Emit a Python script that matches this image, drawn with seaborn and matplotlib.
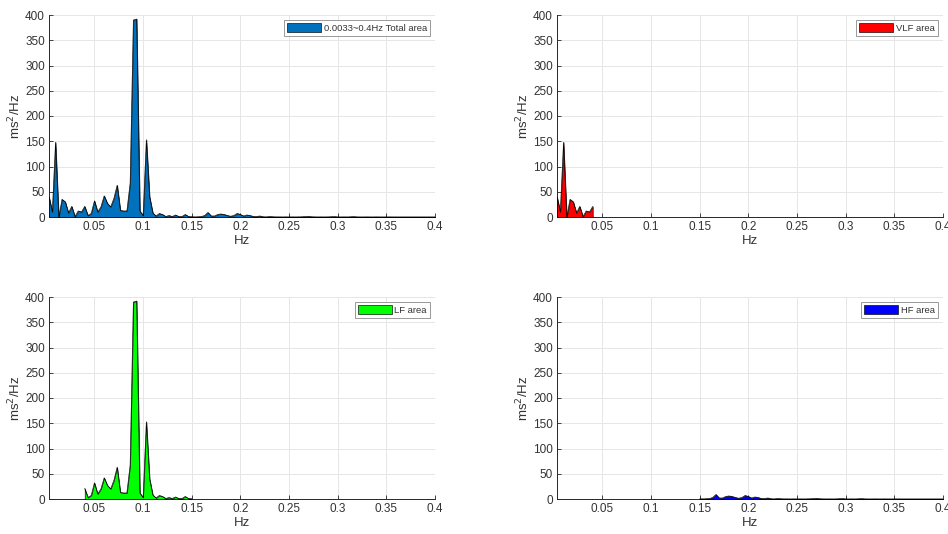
import numpy as np
import pandas as pd
import matplotlib
matplotlib.use("Agg")
import matplotlib.pyplot as plt
import seaborn as sns

# frequency bins (k/300 Hz, k = 1..120)
freq_bins = list(range(1, 121))
psd = [40, 10, 148, 0, 35, 30, 8, 21, 1, 12,
       10, 21, 3, 7, 32, 10, 20, 42, 27, 20,
       37, 63, 13, 12, 12, 67, 390, 392, 12, 3,
       153, 40, 8, 2, 7, 5, 1, 3, 1, 4,
       1, 1, 5, 1, 0.5, 0.3, 0.5, 1, 3, 9,
       2, 2, 5, 6, 5, 3, 1.5, 3, 7, 5,
       2, 4, 3, 1, 1, 2, 0.5, 0.3, 1, 0.5,
       0.3, 0.3, 0.2, 0.3, 0.2, 0.3, 0.2, 0.3, 0.5, 0.8,
       1.2, 0.5, 0.3, 0.2, 0.3, 0.2, 0.3, 0.6, 0.8, 0.3,
       0.2, 0.3, 0.2, 0.5, 0.7, 0.3, 0.2, 0.2, 0.3, 0.2,
       0.2, 0.3, 0.2, 0.2, 0.2, 0.3, 0.2, 0.2, 0.2, 0.2,
       0.2, 0.2, 0.2, 0.2, 0.2, 0.2, 0.2, 0.2, 0.2, 0.2]

bands = ["0.0033~0.4Hz Total area", "VLF area", "LF area", "HF area"]
band_lo = [0.0033, 0.0033, 0.04, 0.15]
band_hi = [0.4, 0.04, 0.15, 0.4]
band_colors = ["#0072BD", "#FF0000", "#00FF00", "#0000FF"]

x_ticks = [0.05, 0.1, 0.15, 0.2, 0.25, 0.3, 0.35, 0.4]
x_ticklabels = ["0.05", "0.1", "0.15", "0.2", "0.25", "0.3", "0.35", "0.4"]
y_ticks = [0, 50, 100, 150, 200, 250, 300, 350, 400]

df = pd.DataFrame({"f": np.array(freq_bins) / 300.0, "p": psd})

sns.set_theme(style="white")
plt.rcParams['font.family'] = ['Liberation Sans', 'DejaVu Sans']

fig = plt.figure(figsize=(9.48, 5.34), dpi=100)
W, H = 948, 534
positions = [(49, 15), (557, 15), (49, 297), (557, 297)]
aw, ah = 386, 202
tc = "#333333"

for i, (name, lo, hi, col) in enumerate(zip(bands, band_lo, band_hi, band_colors)):
    x0, y0 = positions[i]
    ax = fig.add_axes([x0 / W, 1 - (y0 + ah) / H, aw / W, ah / H])
    sub = df[(df["f"] >= lo - 1e-9) & (df["f"] <= hi + 1e-9)]
    ax.fill_between(sub["f"], 0, sub["p"], facecolor=col, edgecolor="black",
                    linewidth=0.45, label=name, zorder=3)
    sns.lineplot(data=sub, x="f", y="p", ax=ax, color="black", linewidth=0.45,
                 zorder=4, legend=False)
    ax.set_xlim(0.0033, 0.4)
    ax.set_ylim(0, 400)
    ax.set_xticks(x_ticks)
    ax.set_xticklabels(x_ticklabels)
    ax.set_yticks(y_ticks)
    ax.grid(True, color="#e6e6e6", linewidth=0.7, zorder=0)
    ax.set_axisbelow(True)
    for s in ["top", "right"]:
        ax.spines[s].set_visible(False)
    for s in ["left", "bottom"]:
        ax.spines[s].set_color("#262626")
        ax.spines[s].set_linewidth(0.7)
    ax.tick_params(direction="in", length=3, width=0.6, colors="#262626",
                   labelcolor=tc, labelsize=8.5, pad=3, bottom=True, left=True)
    ax.set_xlabel("Hz", fontsize=9.5, color=tc, labelpad=1)
    ax.set_ylabel("ms$^2$/Hz", fontsize=9.5, color=tc, labelpad=1)
    leg = ax.legend(loc="upper right", fontsize=6.8, frameon=True, fancybox=False,
                    handlelength=3.6, handleheight=1.1, borderpad=0.3,
                    handletextpad=0.3, borderaxespad=0.55)
    leg.get_frame().set_edgecolor("#808080")
    leg.get_frame().set_linewidth(0.7)
    for t in leg.get_texts():
        t.set_color(tc)

fig.savefig("out.png", dpi=100)
